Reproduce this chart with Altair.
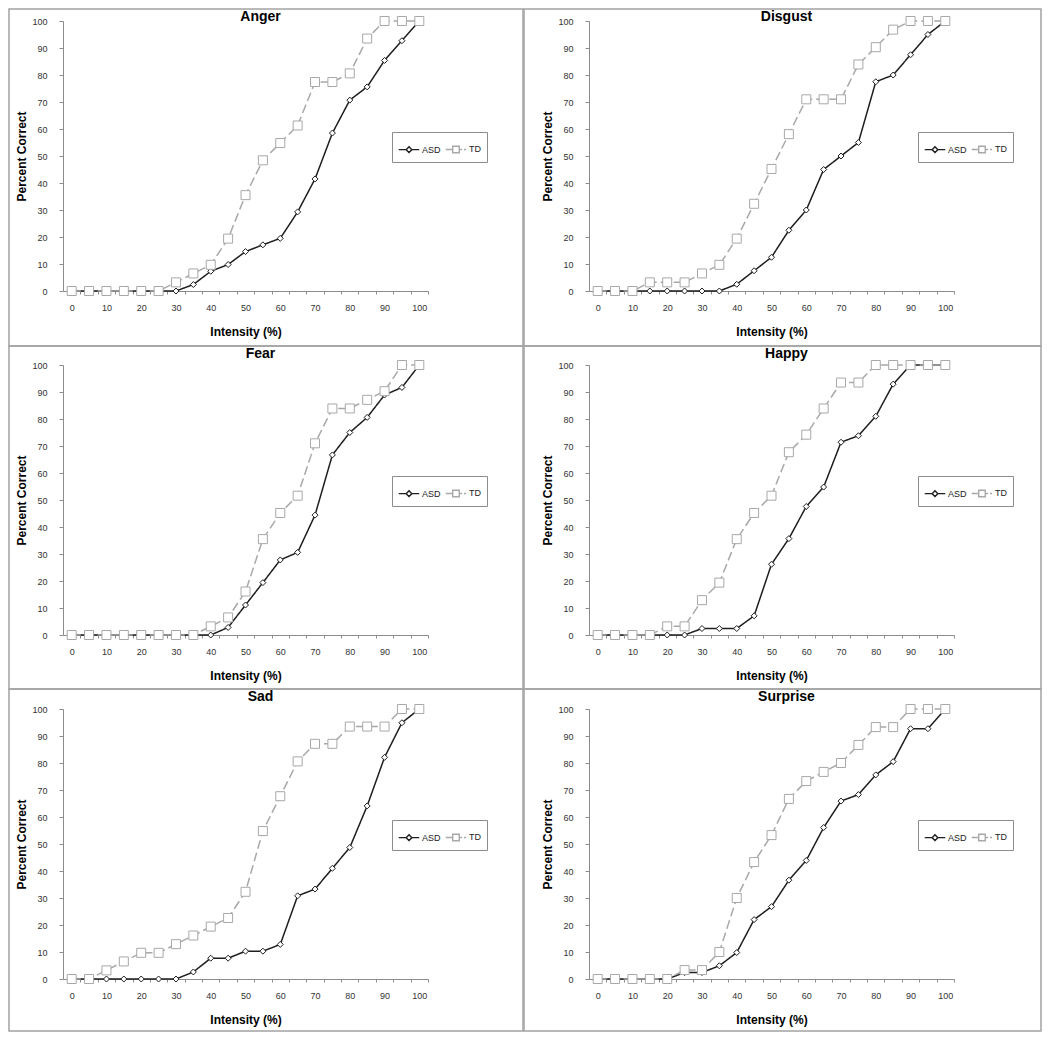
import altair as alt
import pandas as pd

INTENSITY = list(range(0, 101, 5))
GROUPS = ["ASD", "TD"]
EMOTIONS = ["Anger", "Disgust", "Fear", "Happy", "Sad", "Surprise"]

ANGER_ASD = [0, 0, 0, 0, 0, 0, 0, 2.4, 7.3, 9.8, 14.6, 17.1, 19.5, 29.3, 41.5, 58.5, 70.7, 75.6, 85.4, 92.7, 100]
ANGER_TD = [0, 0, 0, 0, 0, 0, 3.2, 6.5, 9.7, 19.4, 35.5, 48.4, 54.8, 61.3, 77.4, 77.4, 80.6, 93.5, 100, 100, 100]
DISGUST_ASD = [0, 0, 0, 0, 0, 0, 0, 0, 2.5, 7.5, 12.5, 22.5, 30, 45, 50, 55, 77.5, 80, 87.5, 95, 100]
DISGUST_TD = [0, 0, 0, 3.2, 3.2, 3.2, 6.5, 9.7, 19.4, 32.3, 45.2, 58.1, 71, 71, 71, 83.9, 90.3, 96.8, 100, 100, 100]
FEAR_ASD = [0, 0, 0, 0, 0, 0, 0, 0, 0, 2.8, 11.1, 19.4, 27.8, 30.6, 44.4, 66.7, 75, 80.6, 88.9, 91.7, 100]
FEAR_TD = [0, 0, 0, 0, 0, 0, 0, 0, 3.2, 6.5, 16.1, 35.5, 45.2, 51.6, 71, 83.9, 83.9, 87.1, 90.3, 100, 100]
HAPPY_ASD = [0, 0, 0, 0, 0, 0, 2.4, 2.4, 2.4, 7.1, 26.2, 35.7, 47.6, 54.8, 71.4, 73.8, 81, 92.9, 100, 100, 100]
HAPPY_TD = [0, 0, 0, 0, 3.2, 3.2, 12.9, 19.4, 35.5, 45.2, 51.6, 67.7, 74.2, 83.9, 93.5, 93.5, 100, 100, 100, 100, 100]
SAD_ASD = [0, 0, 0, 0, 0, 0, 0, 2.6, 7.7, 7.7, 10.3, 10.3, 12.8, 30.8, 33.3, 41, 48.7, 64.1, 82.1, 94.9, 100]
SAD_TD = [0, 0, 3.2, 6.5, 9.7, 9.7, 12.9, 16.1, 19.4, 22.6, 32.3, 54.8, 67.7, 80.6, 87.1, 87.1, 93.5, 93.5, 93.5, 100, 100]
SURPRISE_ASD = [0, 0, 0, 0, 0, 2.4, 2.4, 4.9, 9.8, 22, 26.8, 36.6, 43.9, 56.1, 65.9, 68.3, 75.6, 80.5, 92.7, 92.7, 100]
SURPRISE_TD = [0, 0, 0, 0, 0, 3.3, 3.3, 10, 30, 43.3, 53.3, 66.7, 73.3, 76.7, 80, 86.7, 93.3, 93.3, 100, 100, 100]

SERIES = {
    "Anger": (ANGER_ASD, ANGER_TD),
    "Disgust": (DISGUST_ASD, DISGUST_TD),
    "Fear": (FEAR_ASD, FEAR_TD),
    "Happy": (HAPPY_ASD, HAPPY_TD),
    "Sad": (SAD_ASD, SAD_TD),
    "Surprise": (SURPRISE_ASD, SURPRISE_TD),
}

FONT = "Liberation Sans"
W, H = 365, 270
STEP = W / 21.0
ROW_BORDER = [(-12, 325), (-19, 324), (-20, 322)]
COL_BORDER = [(-54, 460), (-65, 452)]
ASD_COLOR = "#1e1e1e"
TD_COLOR = "#a8a8a8"

PATH_ASD = "M-1,0L-0.32,0M0.32,0L1,0M0,-0.28L0.28,0L0,0.28L-0.28,0Z"
PATH_TD = "M-1,0L-0.4,0M0.4,0L0.6,0M0.78,0L0.98,0M-0.32,-0.32L0.32,-0.32L0.32,0.32L-0.32,0.32Z"

color_scale = alt.Scale(domain=GROUPS, range=[ASD_COLOR, TD_COLOR])


def make_legend():
    return alt.Legend(
        orient="none", legendX=329, legendY=111, direction="horizontal", title=None,
        strokeColor="#8c8c8c", padding=6, symbolSize=420, symbolStrokeWidth=1.4,
        symbolFillColor="white",
        symbolType={"expr": "datum.value === 'ASD' ? '%s' : '%s'" % (PATH_ASD, PATH_TD)},
        labelFont=FONT, labelFontSize=9, labelColor="#222222", columnPadding=1,
        labelOffset=2,
    )


def panel(name, row, col):
    asd, td = SERIES[name]
    df = pd.DataFrame({
        "intensity": INTENSITY + INTENSITY,
        "pct": asd + td,
        "group": ["ASD"] * len(INTENSITY) + ["TD"] * len(INTENSITY),
    })
    x = alt.X("intensity:Q", scale=alt.Scale(domain=[-2.5, 102.5], nice=False, zero=False),
              axis=alt.Axis(values=INTENSITY, tickOffset=STEP / 2, labelOffset=-STEP / 2,
                            labelExpr="datum.value % 10 == 0 ? datum.label : ''",
                            title="Intensity (%)", grid=False, tickSize=3, labelPadding=9,
                            titlePadding=14, domainColor="#8c8c8c", tickColor="#8c8c8c",
                            labelFont=FONT, labelFontSize=9, labelColor="#333333",
                            titleFont=FONT, titleFontSize=12, titleFontWeight="bold",
                            titleColor="#000000", labelFlush=False, labelOverlap=False))
    y = alt.Y("pct:Q", scale=alt.Scale(domain=[0, 100], nice=False),
              axis=alt.Axis(values=list(range(0, 101, 10)), title="Percent Correct", grid=False,
                            tickSize=4, labelPadding=12, titlePadding=3,
                            domainColor="#8c8c8c", tickColor="#8c8c8c",
                            labelFont=FONT, labelFontSize=9, labelColor="#333333",
                            titleFont=FONT, titleFontSize=12, titleFontWeight="bold",
                            titleColor="#000000", labelFlush=False))
    base = alt.Chart(df)
    line = base.mark_line(strokeWidth=1.5).encode(
        x=x, y=y,
        color=alt.Color("group:N", scale=color_scale, legend=make_legend()),
        strokeDash=alt.StrokeDash("group:N", scale=alt.Scale(domain=GROUPS, range=[[1, 0], [9, 4]]),
                                  legend=None),
    )
    pts_asd = base.transform_filter("datum.group == 'ASD'").mark_point(
        shape="diamond", size=36, filled=False, fill="white", stroke=ASD_COLOR,
        opacity=1, strokeWidth=1).encode(x=x, y=y)
    pts_td = base.transform_filter("datum.group == 'TD'").mark_point(
        shape="square", size=81, filled=False, fill="white", stroke=TD_COLOR,
        opacity=1, strokeWidth=1).encode(x=x, y=y)
    by0, by1 = ROW_BORDER[row]
    bx0, bx1 = COL_BORDER[col]
    border = alt.Chart(alt.Data(values=[{}])).mark_rect(
        fill="transparent", stroke="#a3a3a3", strokeWidth=1.5
    ).encode(x=alt.value(bx0), x2=alt.value(bx1), y=alt.value(by0), y2=alt.value(by1))
    return alt.layer(border, line, pts_asd, pts_td).properties(
        width=W, height=H,
        title=alt.TitleParams(name, font=FONT, fontSize=14, fontWeight="bold", color="#000000",
                              anchor="middle", frame="group", baseline="alphabetic",
                              dx=15, offset=-27),
    )


panels = [panel(e, i // 2, i % 2) for i, e in enumerate(EMOTIONS)]
chart = alt.concat(*panels, columns=2, spacing=alt.RowColnumber(row=74, column=161), bounds="flush") \
    .resolve_scale(color="independent", x="independent", y="independent") \
    .resolve_legend(color="independent") \
    .properties(padding=0) \
    .configure_view(stroke=None)

chart.save("out.html", embed_options={"renderer": "svg", "actions": False})
